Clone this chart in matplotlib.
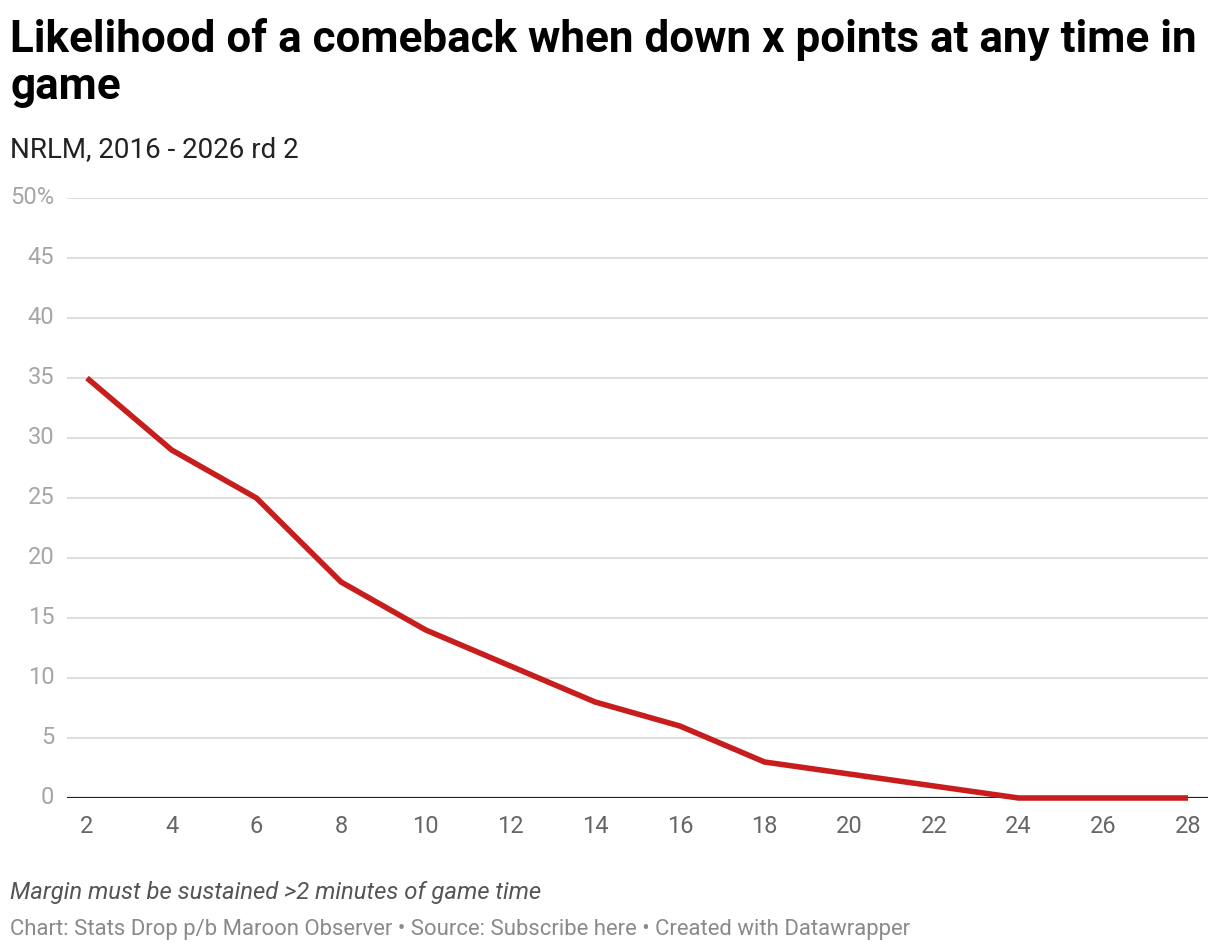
import numpy as np
import matplotlib.pyplot as plt

plt.rcParams['font.family'] = ['Roboto', 'DejaVu Sans']

# points down
margin = [2, 4, 6, 8, 10, 12, 14, 16, 18, 20, 22, 24, 26, 28]
# comeback likelihood (%)
pct = [35, 29, 25, 18, 14, 11, 8, 6, 3, 2, 1, 0, 0, 0]

yticks = [0, 5, 10, 15, 20, 25, 30, 35, 40, 45, 50]
ylabels = ['0', '5', '10', '15', '20', '25', '30', '35', '40', '45', '50%']
xticks = margin

fig = plt.figure(figsize=(12.2, 9.52), dpi=100)
ax = fig.add_axes([67/1220, 1 - 798/952, (1208 - 67)/1220, 600/952])

ax.plot(margin, pct, color='#c71e1d', lw=4, solid_joinstyle='miter',
        solid_capstyle='butt', clip_on=False, zorder=3)

ax.set_xlim(2 - 20/42.35, 28 + 20/42.35)
ax.set_ylim(0, 50)

ax.set_yticks(yticks)
ax.set_yticklabels(ylabels)
ax.set_xticks(xticks)
ax.tick_params(axis='y', length=0, pad=9, labelsize=17, labelcolor='#a6a6a6')
ax.tick_params(axis='x', length=0, pad=12, labelsize=17, labelcolor='#666666')
for lab in ax.get_yticklabels():
    lab.set_verticalalignment('center')

for y in yticks[1:]:
    ax.axhline(y, color='#dedede', lw=1.4, zorder=1)
ax.axhline(0, color='#222222', lw=1.6, zorder=2)

for s in ax.spines.values():
    s.set_visible(False)

# title in two lines
fig.text(10/1220, 1 - 52/952,
         'Likelihood of a comeback when down x points at any time in',
         fontsize=31.7, fontweight='bold', color='#000000',
         va='baseline', ha='left')
fig.text(10/1220, 1 - 99/952, 'game',
         fontsize=31.7, fontweight='bold', color='#000000',
         va='baseline', ha='left')
fig.text(10/1220, 1 - 157/952, 'NRLM, 2016 - 2026 rd 2',
         fontsize=20, color='#222222', va='baseline', ha='left')
fig.text(10/1220, 1 - 899/952, 'Margin must be sustained >2 minutes of game time',
         fontsize=17.2, style='italic', color='#555555', va='baseline', ha='left')
fig.text(10/1220, 1 - 935/952,
         'Chart: Stats Drop p/b Maroon Observer \u2022 Source: Subscribe here \u2022 Created with Datawrapper',
         fontsize=15.9, color='#8a8a8a', va='baseline', ha='left')

fig.savefig('out.png', dpi=100, facecolor='white')
